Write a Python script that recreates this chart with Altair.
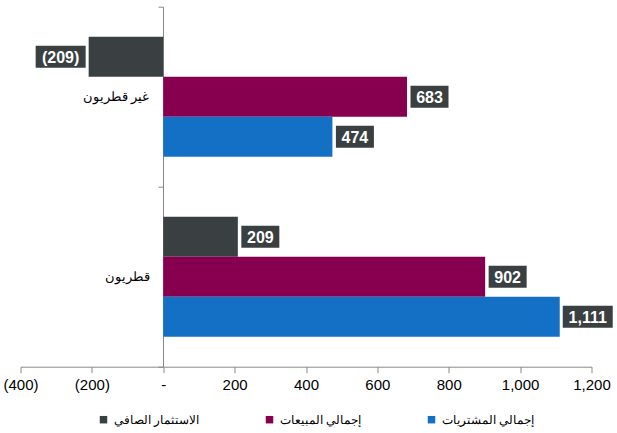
import altair as alt
import pandas as pd

# Investor groups (y categories) and flow series
categories = ["غير قطريون", "قطريون"]
series = ["الاستثمار الصافي", "إجمالي المبيعات", "إجمالي المشتريات"]
series_colors = ["#3A4042", "#870050", "#1470C5"]

non_qatari_values = [-209, 683, 474]
qatari_values = [209, 902, 1111]

tick_values = [-400, -200, 0, 200, 400, 600, 800, 1000, 1200]
tick_labels = ["(400)", "(200)", "-", "200", "400", "600", "800", "1,000", "1,200"]

box_color = "#3A4042"
font = "Liberation Sans"


def fmt(v):
    s = f"{abs(v):,}"
    return f"({s})" if v < 0 else s


rows = []
for cat, vals in zip(categories, [non_qatari_values, qatari_values]):
    for s, v in zip(series, vals):
        rows.append({"group": cat, "series": s, "value": v, "label": fmt(v)})
df = pd.DataFrame(rows)

# axis label expression built from the tick lists
label_expr = "''"
for tv, tl in reversed(list(zip(tick_values, tick_labels))):
    label_expr = f"datum.value == {tv} ? '{tl}' : ({label_expr})"

x_scale = alt.Scale(domain=[-400, 1200], nice=False, zero=False)
y_enc = alt.Y(
    "group:N",
    sort=categories,
    scale=alt.Scale(paddingInner=0, paddingOuter=0),
    axis=alt.Axis(
        title=None,
        offset=-142.5,
        tickBand="extent",
        tickSize=5,
        tickColor="#888888",
        domainColor="#888888",
        labelFont=font,
        labelFontSize=13,
        labelColor="#000000",
        labelPadding=9,
    ),
)
yoff_enc = alt.YOffset("series:N", sort=series, scale=alt.Scale(paddingInner=0, paddingOuter=0.75))

base = alt.Chart(df)

bars = base.mark_bar().encode(
    x=alt.X(
        "value:Q",
        scale=x_scale,
        axis=alt.Axis(
            title=None,
            values=tick_values,
            labelExpr=label_expr,
            grid=False,
            tickSize=6,
            tickColor="#888888",
            domainColor="#888888",
            labelFont=font,
            labelFontSize=15,
            labelColor="#000000",
            labelPadding=5,
            labelFlush=False,
            labelOverlap=False,
        ),
    ),
    y=y_enc,
    yOffset=yoff_enc,
    color=alt.Color(
        "series:N",
        sort=series,
        scale=alt.Scale(domain=series, range=series_colors),
        legend=alt.Legend(
            title=None,
            orient="none",
            direction="horizontal",
            legendX=77,
            legendY=407,
            symbolType="square",
            symbolSize=56,
            symbolStrokeWidth=0,
            labelFont=font,
            labelFontSize=12,
            labelColor="#000000",
            gridAlign="each",
            columnPadding=64,
            labelLimit=200,
        ),
    ),
)


def value_label(cond, x_off, x2_off, dx):
    box = base.mark_bar(size=22, color=box_color, xOffset=x_off, x2Offset=x2_off).encode(
        x=alt.X("value:Q", scale=x_scale),
        x2="value:Q",
        y=alt.Y("group:N", sort=categories),
        yOffset=alt.YOffset("series:N", sort=series),
    ).transform_filter(cond)
    text = base.mark_text(
        color="white", font=font, fontSize=16, fontWeight="bold",
        align="center", baseline="middle", dx=dx, dy=1,
    ).encode(
        x=alt.X("value:Q", scale=x_scale),
        y=alt.Y("group:N", sort=categories),
        yOffset=alt.YOffset("series:N", sort=series),
        text="label:N",
    ).transform_filter(cond)
    return [box, text]


layers = [bars]
layers += value_label("datum.value >= 0 && length(datum.label) <= 3", 3.5, 41.5, 22.5)
layers += value_label("datum.value >= 0 && length(datum.label) > 3", 3, 53, 28)
layers += value_label("datum.value < 0", -53, -3, -28)

chart = alt.layer(*layers).properties(
    width=571,
    height=360,
    autosize=alt.AutoSizeParams(type="none"),
    padding={"left": 20.5, "top": 6.7, "right": 25.5, "bottom": 66.3},
    background="white",
).configure_view(stroke=None)

chart.save("out.html", embed_options={"renderer": "svg", "actions": False})
